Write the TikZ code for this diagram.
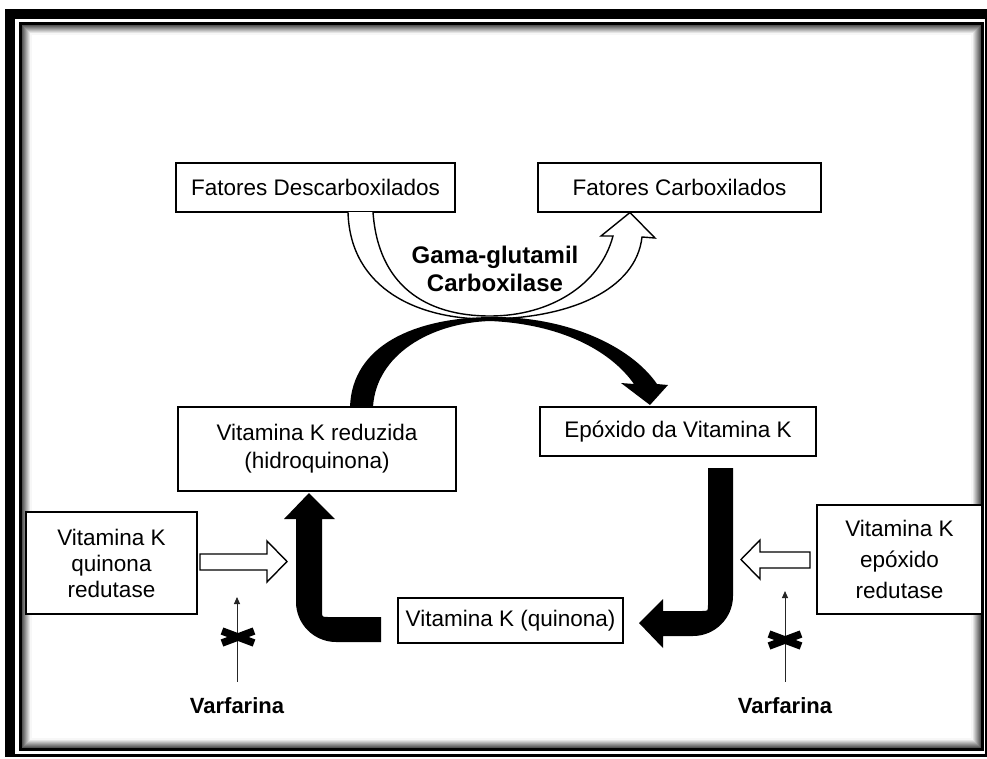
\documentclass[tikz,border=0pt]{standalone}
\usepackage{fontspec}
\setmainfont{Liberation Sans}
\usetikzlibrary{arrows.meta,calc}
\begin{document}
\begin{tikzpicture}[x=1pt,y=-1pt,
  box/.style={draw=black, line width=1.6pt, fill=white, inner sep=0pt, align=center,
    font=\fontsize{22.5}{26}\selectfont},
  lbl/.style={inner sep=0pt, align=center, font=\fontsize{22}{28}\selectfont\bfseries},
  hollow/.style={draw=black, line width=1.4pt, fill=white, line join=miter},
  solidarrow/.style={fill=black},
  thinarrow/.style={draw=black!85, line width=0.9pt, -{Triangle[length=7pt,width=6pt]}},
  xmark/.style={line width=7.5pt, draw=black}
]
\useasboundingbox (0,0) rectangle (987,758);
% frame
\fill[black] (5,9) rectangle (987,757);
\fill[white] (15,19) rectangle (985,754);
\draw[line width=3pt] (20.5,23.5) rectangle (982.5,749.5);
\foreach \k in {1,...,9} {
  \pgfmathtruncatemacro\g{75-\k*8}
  \draw[line width=1.1pt, draw=black!\g] (22+\k,25+\k) rectangle (981-\k,748-\k);
}

% boxes
\node[box, minimum width=279pt, minimum height=49pt] (fd) at (315.5,187.5) {Fatores Descarboxilados};
\node[box, minimum width=283pt, minimum height=49pt] (fc) at (679.5,187.5) {Fatores Carboxilados};
\node[box, minimum width=278pt, minimum height=84pt, font=\fontsize{22.5}{28}\selectfont] (vkr) at (317,449) {Vitamina K reduzida\\(hidroquinona)};
\node[box, minimum width=276pt, minimum height=49pt] (epo) at (678,431.5) {Epóxido da Vitamina K};
\node[box, minimum width=225pt, minimum height=45pt] (vkq) at (510.5,620.5) {Vitamina K (quinona)};
\node[box, minimum width=171pt, minimum height=102pt] (qr) at (111.5,563) {Vitamina K\\quinona\\redutase};
\node[box, minimum width=165pt, minimum height=109pt, font=\fontsize{22.5}{31}\selectfont] (er) at (899.5,559.5) {Vitamina K\\epóxido\\redutase};

% hollow curved arrow (carboxylation)
\draw[hollow] (348,212) .. controls (350,290) and (420,320) .. (490,319)
  .. controls (570,318) and (636,290) .. (642,237) -- (655,238) -- (630,212.5)
  -- (601,236) -- (613,236) .. controls (600,285) and (550,316) .. (490,316)
  .. controls (425,316) and (378,285) .. (373,212);

% black curved arrow (reduced -> epoxide)
\fill[solidarrow] (350,407) .. controls (352,345) and (415,318) .. (490,317)
  .. controls (565,316) and (630,345) .. (657,384) -- (668,385) -- (650,405)
  -- (621,383) -- (634,384) .. controls (610,350) and (560,324) .. (490,321)
  .. controls (430,323) and (376,355) .. (373,407) -- cycle;

\node[lbl, font=\fontsize{24}{28}\selectfont\bfseries] (gama) at (495,269) {Gama-glutamil\\Carboxilase};

% L-shaped black arrow (quinona -> reduzida)
\fill[solidarrow] (309,493) -- (335,519) -- (322,519) -- (322,611)
  .. controls (322,617) .. (328,617) -- (381,617) -- (381,642) -- (336,642)
  .. controls (314,642) and (296,624) .. (296,602) -- (296,519) -- (284,519) -- cycle;

% J-shaped black arrow (epoxido -> quinona)
\fill[solidarrow] (708,468) -- (733,468) -- (733,596)
  .. controls (733,618) and (715,636) .. (693,636) -- (663,636) -- (663,648)
  -- (639,623) -- (663,599) -- (663,611) -- (702,611)
  .. controls (708,611) .. (708,605) -- cycle;

% hollow straight arrows from enzymes
\draw[hollow] (200,554) -- (267,554) -- (267,541) -- (287,561.5) -- (267,582) -- (267,570) -- (200,570) -- cycle;
\draw[hollow] (810,552) -- (760,552) -- (760,540) -- (741,559.5) -- (760,579) -- (760,568) -- (810,568) -- cycle;

% Varfarina inhibition
\node[lbl] (varL) at (237,706) {Varfarina};
\node[lbl] (varR) at (785,706) {Varfarina};
\coordinate (tipL) at (237,597);
\coordinate (tipR) at (785,591);
\draw[thinarrow] ($(varL.north)+(0,-16)$) -- (tipL);
\draw[thinarrow] ($(varR.north)+(0,-16)$) -- (tipR);
\draw[xmark] (222,631) -- (254,643) (222,643) -- (254,631);
\draw[xmark] (769,634) -- (801,646) (769,646) -- (801,634);
\end{tikzpicture}
\end{document}
